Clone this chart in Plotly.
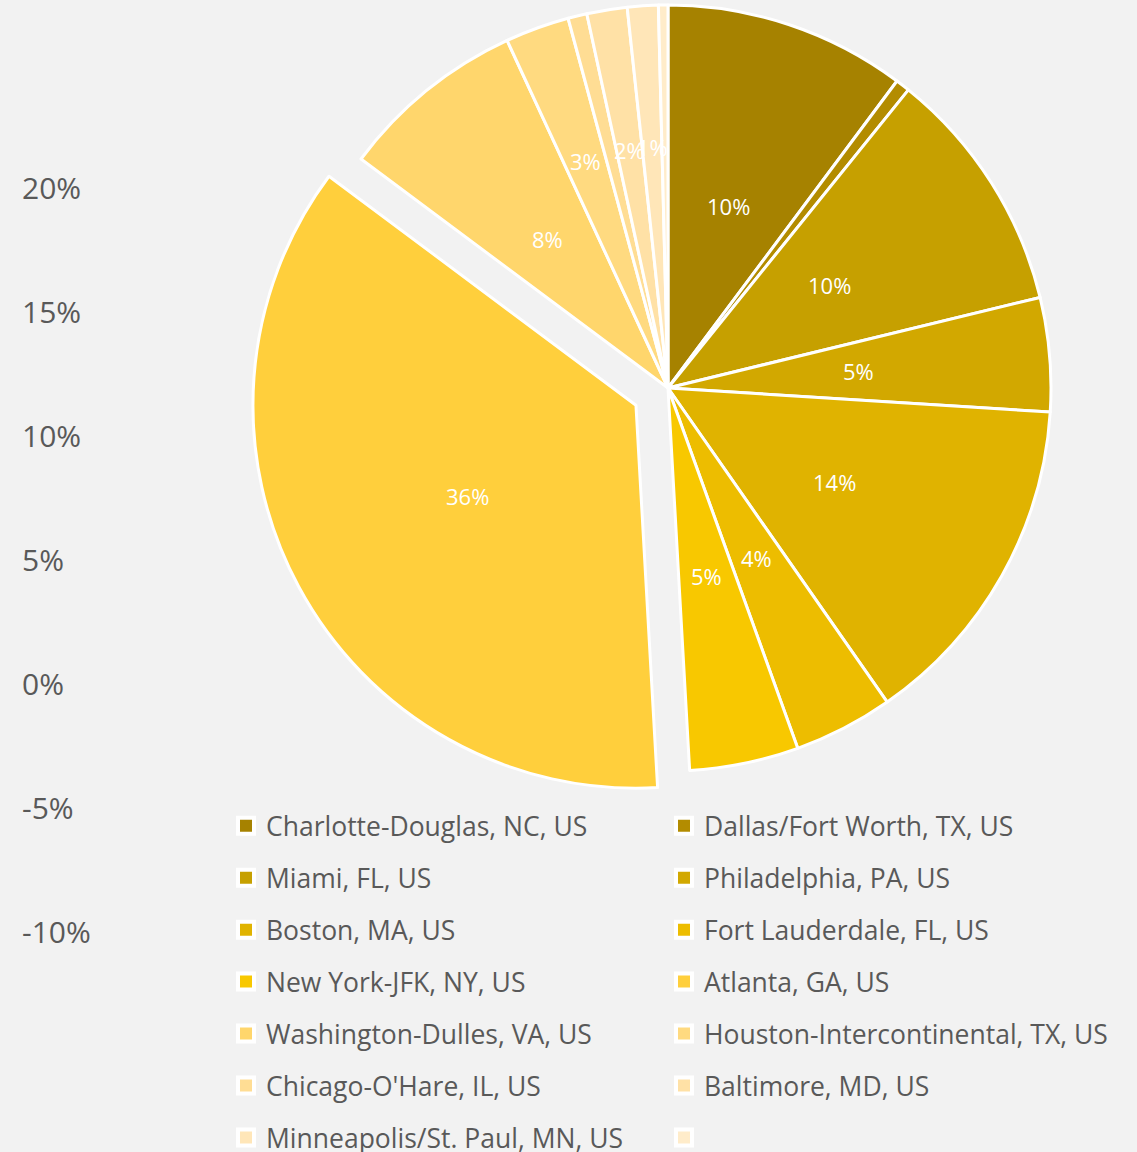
import math
import plotly.graph_objects as go

# Share of passengers by destination airport (percent of total)
airports = [
    "Charlotte-Douglas, NC, US",
    "Dallas/Fort Worth, TX, US",
    "Miami, FL, US",
    "Philadelphia, PA, US",
    "Boston, MA, US",
    "Fort Lauderdale, FL, US",
    "New York-JFK, NY, US",
    "Atlanta, GA, US",
    "Washington-Dulles, VA, US",
    "Houston-Intercontinental, TX, US",
    "Chicago-O'Hare, IL, US",
    "Baltimore, MD, US",
    "Minneapolis/St. Paul, MN, US",
    "",
]
shares = [10.2, 0.6, 10.4, 4.8, 14.3, 4.2, 4.6, 36.1, 7.9, 2.7, 0.8, 1.7, 1.3, 0.4]
slice_colors = [
    "#a68200", "#b38c00", "#c6a000", "#d2a800", "#e0b300", "#edbd00", "#f8c800",
    "#ffcf3c", "#ffd66c", "#ffda80", "#ffdd94", "#ffe1a6", "#ffe6b8", "#ffecca",
]
exploded = "Atlanta, GA, US"
axis_ticks = [-10, -5, 0, 5, 10, 15, 20]

# ---- geometry / styling ----
W, H = 1137, 1152
CX, CY, R = 668, 388, 383          # pie centre and radius in px
PULL = 0.095                       # explode distance as a fraction of radius
ZERO_PX, PX_PER_UNIT = 684.5, 24.8 # value axis placement
AXIS_X = 19                        # left edge of the value axis labels
BG = "#f2f2f2"
TXT = "#595959"
FONT = "Open Sans"
CLEAR = "rgba(0,0,0,0)"

total = sum(shares)
fractions = [s / total for s in shares]
starts = [sum(fractions[:i]) for i in range(len(fractions))]
mids = [2 * math.pi * (st + f / 2) for st, f in zip(starts, fractions)]
ex = airports.index(exploded)


def domain(cx, cy):
    return dict(x=[(cx - R) / W, (cx + R) / W], y=[1 - (cy + R) / H, 1 - (cy - R) / H])


pie_labels = [a if a else " " for a in airports]

fig = go.Figure()

# main pie, exploded slice left empty
fig.add_trace(go.Pie(
    values=shares, labels=pie_labels, sort=False, direction="clockwise", rotation=0,
    marker=dict(
        colors=[CLEAR if i == ex else c for i, c in enumerate(slice_colors)],
        line=dict(color=[CLEAR if i == ex else "white" for i in range(len(shares))], width=3),
    ),
    textinfo="none", hoverinfo="label+percent", showlegend=False,
    domain=domain(CX, CY),
))

# exploded slice, drawn on a pie shifted along its mid-angle
t = mids[ex]
ecx = CX + PULL * R * math.sin(t)
ecy = CY - PULL * R * math.cos(t)
fig.add_trace(go.Pie(
    values=shares, labels=pie_labels, sort=False, direction="clockwise", rotation=0,
    marker=dict(
        colors=[c if i == ex else CLEAR for i, c in enumerate(slice_colors)],
        line=dict(color=["white" if i == ex else CLEAR for i in range(len(shares))], width=3),
    ),
    textinfo="none", hoverinfo="label+percent", showlegend=False,
    domain=domain(ecx, ecy),
))

# value axis on the left
fig.add_trace(go.Scatter(x=[None], y=[None], showlegend=False, hoverinfo="skip"))

# unit frame over the pie for the percentage labels
fig.add_trace(go.Scatter(x=[None], y=[None], xaxis="x2", yaxis="y2",
                         showlegend=False, hoverinfo="skip"))

annotations = []
for i, (s, f) in enumerate(zip(shares, fractions)):
    if s < 1.0:
        continue
    rl = 0.5 if s >= 4 else 0.63
    if i == ex:
        rl += PULL
    annotations.append(dict(
        x=rl * math.sin(mids[i]), y=rl * math.cos(mids[i]), xref="x2", yref="y2",
        text=f"{round(f * 100)}%", showarrow=False,
        font=dict(family=FONT, size=22, color="white"),
        xanchor="center", yanchor="middle",
    ))

# legend entries, two columns
for i, (name, col) in enumerate(zip(airports, slice_colors)):
    fig.add_trace(go.Scatter(
        x=[None], y=[None], mode="markers", name=name,
        marker=dict(symbol="square", size=16, color=col, line=dict(color="white", width=4)),
        legendgroup=f"g{i}", legend="legend" if i % 2 == 0 else "legend2",
        hoverinfo="skip",
    ))

legend_style = dict(
    orientation="v", xanchor="left", yanchor="top", y=1 - 802 / H,
    font=dict(family=FONT, size=26.5, color=TXT), bgcolor=CLEAR,
    tracegroupgap=14.5, itemwidth=30, itemclick=False, itemdoubleclick=False,
)

fig.update_layout(
    width=W, height=H,
    margin=dict(l=0, r=0, t=0, b=0, autoexpand=False),
    paper_bgcolor=BG, plot_bgcolor=BG,
    font=dict(family=FONT, color=TXT),
    showlegend=True,
    legend=dict(x=226 / W, **legend_style),
    legend2=dict(x=664 / W, **legend_style),
    xaxis=dict(domain=[AXIS_X / W, 1.0], range=[0, 1], visible=False),
    yaxis=dict(
        domain=[0, 1],
        range=[-(H - ZERO_PX) / PX_PER_UNIT, ZERO_PX / PX_PER_UNIT],
        tickvals=axis_ticks, ticktext=[f"{v}%" for v in axis_ticks],
        ticklabelposition="inside", ticks="",
        showgrid=False, zeroline=False, showline=False,
        tickfont=dict(family=FONT, size=30, color=TXT),
    ),
    xaxis2=dict(domain=domain(CX, CY)["x"], range=[-1, 1], visible=False, anchor="y2"),
    yaxis2=dict(domain=domain(CX, CY)["y"], range=[-1, 1], visible=False, anchor="x2"),
    annotations=annotations,
)

fig.write_html("out.html")
